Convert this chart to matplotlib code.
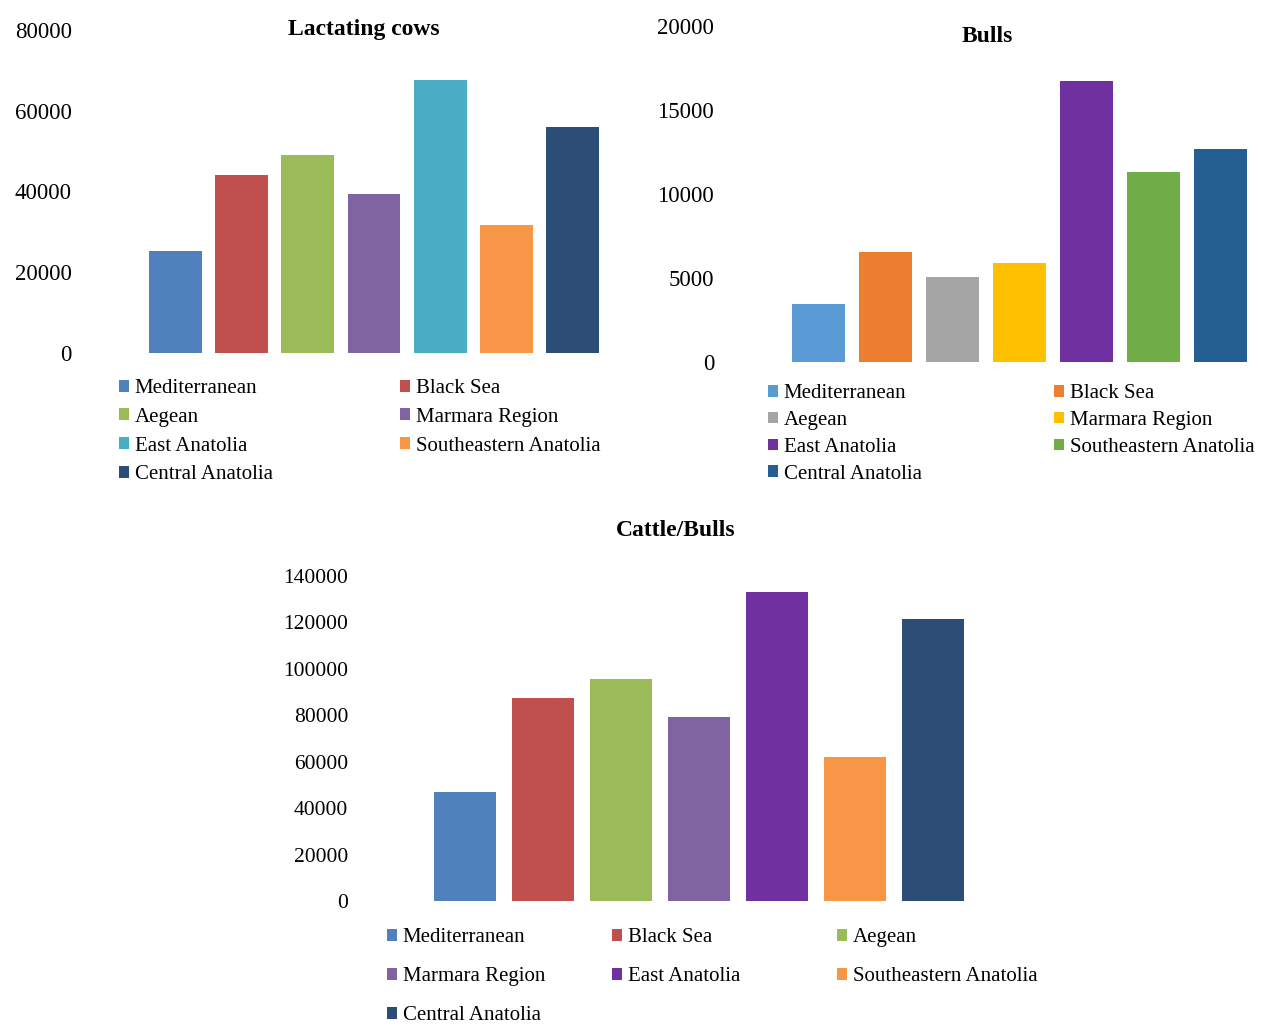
import matplotlib
matplotlib.use("Agg")
import matplotlib.pyplot as plt

plt.rcParams['font.family'] = ['Liberation Serif', 'DejaVu Serif']

regions = ['Mediterranean', 'Black Sea', 'Aegean', 'Marmara Region',
           'East Anatolia', 'Southeastern Anatolia', 'Central Anatolia']

lactating_cows = [25300, 44100, 49000, 39400, 67600, 31700, 56000]
bulls = [3430, 6570, 5040, 5880, 16700, 11300, 12700]
cattle_bulls = [46800, 87600, 95600, 79400, 133000, 61900, 121300]

colors_2010 = ['#4F81BD', '#C0504D', '#9BBB59', '#8064A2', '#4BACC6', '#F79646', '#2C4D75']
colors_2013 = ['#5B9BD5', '#ED7D31', '#A5A5A5', '#FFC000', '#7030A0', '#70AD47', '#255E91']
colors_cattle = ['#4F81BD', '#C0504D', '#9BBB59', '#8064A2', '#7030A0', '#F79646', '#2C4D75']

W, H = 1261, 1026
fig = plt.figure(figsize=(W / 100, H / 100), dpi=100)


def px_axes(l, t, r, b):
    return fig.add_axes([l / W, 1 - b / H, (r - l) / W, (b - t) / H])


def bar_panel(box, values, colors, ymax, step, width, pad, tick_fs):
    ax = px_axes(*box)
    bars = ax.bar(range(len(values)), values, width=width, color=colors)
    ax.set_xlim(-0.5, len(values) - 0.5)
    ax.set_ylim(0, ymax)
    ax.set_yticks(range(0, ymax + 1, step))
    ax.set_xticks([])
    for s in ax.spines.values():
        s.set_visible(False)
    ax.tick_params(axis='y', length=0, pad=pad, labelsize=tick_fs)
    return ax, list(bars)


def legend_grid(handles, ncol, col_x, top_y, spacing, fs=15):
    for c in range(ncol):
        idx = list(range(c, len(regions), ncol))
        fig.legend([handles[i] for i in idx], [regions[i] for i in idx],
                   loc='upper left', bbox_to_anchor=(col_x[c] / W, 1 - top_y / H),
                   frameon=False, borderpad=0, borderaxespad=0,
                   handlelength=0.5, handleheight=0.5, handletextpad=0.25,
                   labelspacing=spacing, fontsize=fs)


# Lactating cows
ax1, h1 = bar_panel((142.4, 30, 605.6, 353), lactating_cows, colors_2010,
                    80000, 20000, 0.8, 50.7, 16.5)
fig.text(364 / W, 1 - 29 / H, 'Lactating cows', ha='center', va='center',
         fontsize=17, fontweight='bold')
legend_grid(h1, 2, [119, 400], 379, 0.47)

# Bulls
ax2, h2 = bar_panel((785, 26, 1254, 362), bulls, colors_2013,
                    20000, 5000, 0.79, 51, 16.5)
fig.text(987 / W, 1 - 36 / H, 'Bulls', ha='center', va='center',
         fontsize=17, fontweight='bold')
legend_grid(h2, 2, [768, 1054], 384, 0.38)

# Cattle/Bulls
ax3, h3 = bar_panel((426, 576, 972, 901), cattle_bulls, colors_cattle,
                    140000, 20000, 0.795, 56, 15.5)
fig.text(676 / W, 1 - 530 / H, 'Cattle/Bulls', ha='center', va='center',
         fontsize=17, fontweight='bold')
legend_grid(h3, 3, [387, 612, 837], 928, 0.96)

fig.savefig('out.png', dpi=100)
